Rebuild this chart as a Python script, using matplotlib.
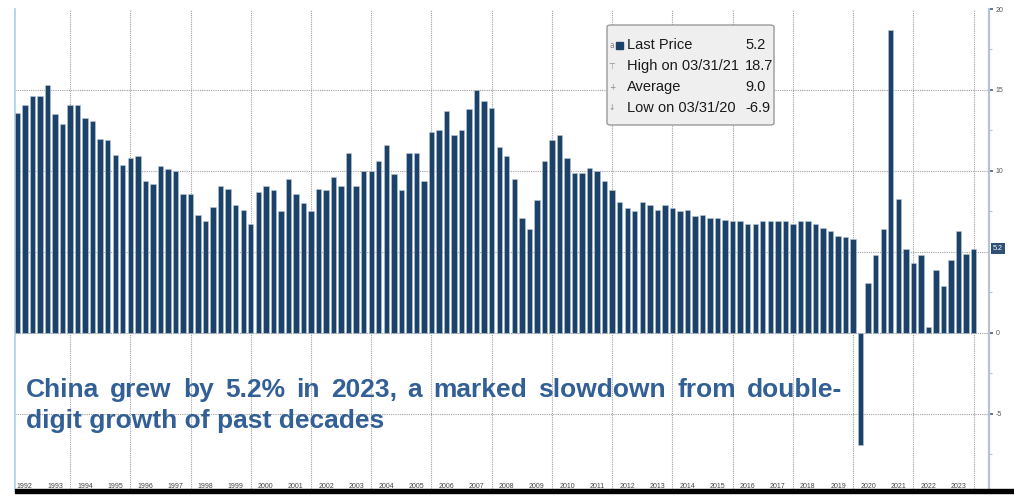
import matplotlib
matplotlib.use("Agg")
import matplotlib.pyplot as plt
import matplotlib.transforms as mtransforms
from matplotlib.patches import FancyBboxPatch, Rectangle

W, H = 1014, 501

BAR = "#1d4269"
BAR_EDGE = "#b9c8d8"
TEXT_BLUE = "#325f96"
GRID = "#a0a0a0"
AXIS_RIGHT = "#b3c3d3"
AXIS_LEFT = "#a9d0ee"

years = list(range(1992, 2024))

# China real GDP, % y/y, one value per quarter (Q1..Q4)
gdp_yoy = [
    13.6, 14.1, 14.6, 14.6,   # 1992
    15.3, 13.5, 12.9, 14.1,   # 1993
    14.1, 13.3, 13.1, 12.0,   # 1994
    11.9, 11.0, 10.4, 10.8,   # 1995
    10.9, 9.4, 9.2, 10.3,     # 1996
    10.1, 10.0, 8.6, 8.6,     # 1997
    7.3, 6.9, 7.8, 9.1,       # 1998
    8.9, 7.9, 7.6, 6.7,       # 1999
    8.7, 9.1, 8.8, 7.5,       # 2000
    9.5, 8.6, 8.0, 7.5,       # 2001
    8.9, 8.8, 9.6, 9.1,       # 2002
    11.1, 9.1, 10.0, 10.0,    # 2003
    10.6, 11.6, 9.8, 8.8,     # 2004
    11.1, 11.1, 9.4, 12.4,    # 2005
    12.5, 13.7, 12.2, 12.5,   # 2006
    13.8, 15.0, 14.3, 13.9,   # 2007
    11.5, 10.9, 9.5, 7.1,     # 2008
    6.4, 8.2, 10.6, 11.9,     # 2009
    12.2, 10.8, 9.9, 9.9,     # 2010
    10.2, 10.0, 9.4, 8.8,     # 2011
    8.1, 7.7, 7.5, 8.1,       # 2012
    7.9, 7.6, 7.9, 7.7,       # 2013
    7.5, 7.6, 7.2, 7.3,       # 2014
    7.1, 7.1, 7.0, 6.9,       # 2015
    6.9, 6.7, 6.7, 6.9,       # 2016
    6.9, 6.9, 6.9, 6.7,       # 2017
    6.9, 6.9, 6.7, 6.5,       # 2018
    6.3, 6.0, 5.9, 5.8,       # 2019
    -6.9, 3.1, 4.8, 6.4,      # 2020
    18.7, 8.3, 5.2, 4.3,      # 2021
    4.8, 0.4, 3.9, 2.9,       # 2022
    4.5, 6.3, 4.9, 5.2,       # 2023
]
high_date = "03/31/21"
low_date = "03/31/20"
average = 9.0

right_ticks = [-5, 0, 10, 15, 20]
minor_ticks = [-7.5, -2.5, 2.5, 7.5, 12.5, 17.5]

headline = ["China grew by 5.2% in 2023, a marked slowdown from double-",
            "digit growth of past decades"]

FONT = "Liberation Sans"


def fx(px):
    return px / W


def fy(py):
    return 1 - py / H


fig = plt.figure(figsize=(W / 100, H / 100), dpi=100, facecolor="white")
ax = fig.add_axes([fx(15), fy(489), fx(989) - fx(15), fy(9) - fy(489)])

idx = list(range(len(gdp_yoy)))
ax.bar(idx, gdp_yoy, width=0.72, color=BAR, edgecolor=BAR_EDGE, linewidth=0.4,
       zorder=3)

ax.set_xlim(-0.31, 129.05)
ax.set_ylim(-9.63, 20)

# dotted grid: levels every 5, years every other Q4
for lv in (-5, 0, 5, 10, 15):
    ax.axhline(lv, color=GRID, lw=0.8, ls=(0, (1, 1)), zorder=1)
for i in range(7, len(gdp_yoy), 8):
    ax.axvline(i, color=GRID, lw=0.8, ls=(0, (1, 1)), zorder=1)

for s in ("top", "bottom"):
    ax.spines[s].set_visible(False)
ax.spines["left"].set_color(AXIS_LEFT)
ax.spines["left"].set_linewidth(1.2)
ax.spines["right"].set_color(AXIS_RIGHT)
ax.spines["right"].set_linewidth(1.6)

ax.set_xticks([])
ax.yaxis.tick_right()
ax.set_yticks(right_ticks)
ax.set_yticks(minor_ticks, minor=True)
ax.set_yticklabels([str(t) for t in right_ticks], fontsize=5, color="#555555",
                   family=FONT)
ax.tick_params(axis="y", which="major", length=3, width=1.2, color="#3d5f85",
               pad=1.5)
ax.tick_params(axis="y", which="minor", length=2, width=0.8, color=AXIS_RIGHT)

# year labels along the bottom edge
trans = mtransforms.blended_transform_factory(ax.transData, ax.transAxes)
for k, yr in enumerate(years):
    ax.text(4 * k + 1.0, 0.006, str(yr), transform=trans, ha="center",
            va="center", fontsize=5, color="#444444", family=FONT)

# last value tag on the right axis
last = gdp_yoy[-1]
ax.annotate(f"{last:.1f}", xy=(1, last), xycoords=("axes fraction", "data"),
            xytext=(3, 0), textcoords="offset points", ha="left", va="center",
            fontsize=5.2, color="white", family=FONT, annotation_clip=False,
            bbox=dict(boxstyle="square,pad=0.3", fc="#2f4f73", ec="none"))

# black rule under the chart
fig.add_artist(Rectangle((fx(15), fy(493)), 1 - fx(15), 4 / H,
                         transform=fig.transFigure, color="black"))

# summary box
box_l, box_t, box_r, box_b = 607, 25, 774, 125
fig.add_artist(FancyBboxPatch((fx(box_l), fy(box_b)), fx(box_r - box_l),
                              (box_b - box_t) / H,
                              boxstyle="round,pad=0,rounding_size=0.004",
                              transform=fig.transFigure, fc="#efefef",
                              ec="#9a9a9a", lw=1.0, zorder=5))
hi = max(gdp_yoy)
lo = min(gdp_yoy)
rows = [
    ("a", "Last Price", f"{last:.1f}"),
    ("\u22a4", f"High on {high_date}", f"{hi:.1f}"),
    ("+", "Average", f"{average:.1f}"),
    ("\u2193", f"Low on {low_date}", f"{lo:.1f}"),
]
for r, (glyph, name, val) in enumerate(rows):
    y = 45 + 21 * r
    fig.text(fx(612), fy(y), glyph, fontsize=5.5, color="#8a8a8a",
             ha="center", va="center", zorder=6)
    fig.text(fx(627), fy(y), name, fontsize=10.5, color="#1a1a1a",
             ha="left", va="center", family=FONT, zorder=6)
    fig.text(fx(745), fy(y), val, fontsize=10.5, color="#1a1a1a",
             ha="left", va="center", family=FONT, zorder=6)
fig.add_artist(Rectangle((fx(616), fy(49)), fx(7), 7 / H,
                         transform=fig.transFigure, color=BAR, zorder=6))

# headline inside the plot; first line justified to the full text width
style = dict(fontsize=19, fontweight="bold", color=TEXT_BLUE, family=FONT,
             ha="left", va="baseline")
renderer = fig.canvas.get_renderer()
words = headline[0].split(" ")
pieces = [fig.text(0, fy(397), w, **style) for w in words]
widths = [p.get_window_extent(renderer).width for p in pieces]
left, right = 26, 842
gap = (right - left - sum(widths)) / (len(words) - 1)
x = left
for p, wd in zip(pieces, widths):
    p.set_x(fx(x))
    x += wd + gap
fig.text(fx(26), fy(428), headline[1], **style)

fig.savefig("out.png", dpi=100, facecolor="white")
